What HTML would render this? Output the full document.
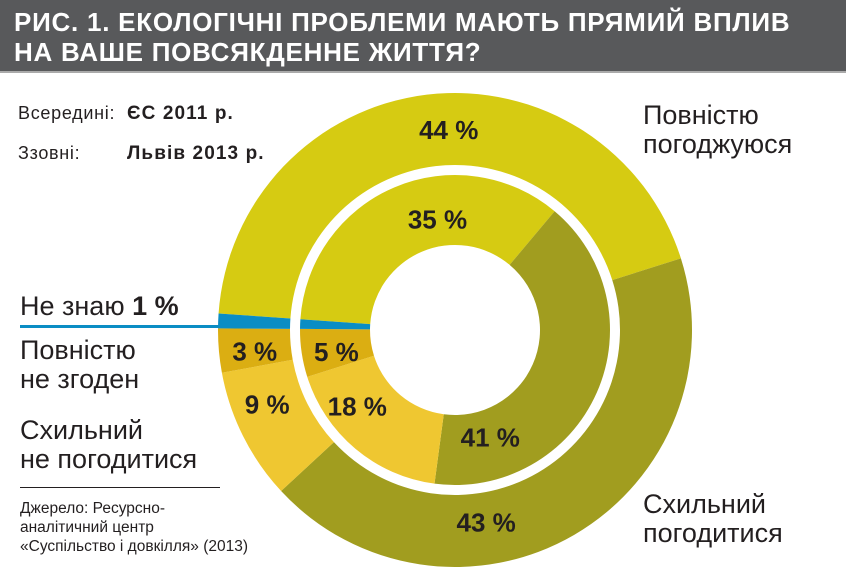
<!DOCTYPE html>
<html><head><meta charset="utf-8"><style>
body{margin:0;width:846px;height:567px;overflow:hidden;background:#fff;font-family:"Liberation Sans",sans-serif;color:#231f20;position:relative}
.hdr{position:absolute;left:0;top:0;width:846px;height:71px;background:#58595b;border-bottom:2px solid #aaa}
.hdr div{position:absolute;left:14px;color:#fff;font-weight:bold;font-size:26px;letter-spacing:0.75px}
.t{position:absolute;white-space:nowrap}
.lg{font-size:18px;letter-spacing:0.7px}
.lg b{position:absolute;left:109px;font-size:19px;letter-spacing:1.1px}
</style></head><body>
<div class="hdr">
<div style="top:7px">РИС. 1. ЕКОЛОГІЧНІ ПРОБЛЕМИ МАЮТЬ ПРЯМИЙ ВПЛИВ</div>
<div style="top:37px">НА ВАШЕ ПОВСЯКДЕННЕ ЖИТТЯ?</div>
</div>
<svg id="c" width="846" height="567" style="position:absolute;left:0;top:0"></svg>
<div class="t lg" style="left:18px;top:103px">Всередині: <b>ЄС 2011 р.</b></div>
<div class="t lg" style="left:18px;top:143px">Ззовні: <b>Львів 2013 р.</b></div>
<div class="t" style="left:643px;top:101px;font-size:27px;line-height:29px">Повністю<br>погоджуюся</div>
<div class="t" style="left:643px;top:490px;font-size:27px;line-height:29px">Схильний<br>погодитися</div>
<div class="t" style="left:20px;top:291px;font-size:27px">Не знаю <b>1 %</b></div>
<div class="t" style="left:20px;top:336px;font-size:27px;line-height:29px">Повністю<br>не згоден</div>
<div class="t" style="left:20px;top:416px;font-size:27px;line-height:29px">Схильний<br>не погодитися</div>
<div style="position:absolute;left:20px;top:487px;width:200px;height:1px;background:#231f20"></div>
<div class="t" style="left:20px;top:499px;font-size:15.5px;line-height:19px">Джерело: Ресурсно-<br>аналітичний центр<br>«Суспільство і довкілля» (2013)</div>
<script>
const categories=["Повністю погоджуюся","Схильний погодитися","Схильний не погодитися","Повністю не згоден","Не знаю"];
const outerValues=[44,43,9,3,1];
const innerValues=[35,41,18,5,1];
const colors=["#d6cb12","#a19d1f","#efc731","#dbae12","#0a8dc4"];
const startAngle=274;
const cx=455,cy=330;
// label anchor tweaks (angle shift deg, radius) — layout only
const outerLabelPos=[[5,200],[21,195],[5,202],[0,201]];
const innerLabelPos=[[14,112],[48,113],[12,124],[0,120]];
const svg=document.getElementById('c');
const NS="http://www.w3.org/2000/svg";
function pt(r,a){const t=(a-90)*Math.PI/180;return [cx+r*Math.cos(t),cy+r*Math.sin(t)];}
function arc(r0,r1,a0,a1){const l=(a1-a0)>180?1:0;const p=pt(r1,a0),q=pt(r1,a1),s=pt(r0,a1),u=pt(r0,a0);
return `M${p}L${p}A${r1},${r1} 0 ${l} 1 ${q}L${s}A${r0},${r0} 0 ${l} 0 ${u}Z`;}
function ring(vals,r0,r1,name,lp){let a=startAngle;vals.forEach((v,i)=>{const a1=a+v*3.6;
const p=document.createElementNS(NS,'path');p.setAttribute('d',arc(r0,r1,a,a1));p.setAttribute('fill',colors[i]);


svg.appendChild(p);
if(i<4){const m=(a+a1)/2+lp[i][0];let [x,y]=pt(lp[i][1],m);
if(i===3){y+=4;}
const t=document.createElementNS(NS,'text');t.setAttribute('x',x);t.setAttribute('y',y+9);t.setAttribute('text-anchor','middle');
t.setAttribute('font-size','26');t.setAttribute('font-weight','bold');t.setAttribute('fill','#231f20');t.textContent=v+' %';


svg.appendChild(t);}
a=a1;});}
ring(outerValues,165,237,'outer',outerLabelPos);
ring(innerValues,85,155,'inner',innerLabelPos);
const ln=document.createElementNS(NS,'rect');ln.setAttribute('x',20);ln.setAttribute('y',325);ln.setAttribute('width',200);ln.setAttribute('height',3);ln.setAttribute('fill','#0a8dc4');


svg.appendChild(ln);
</script>
</body></html>
